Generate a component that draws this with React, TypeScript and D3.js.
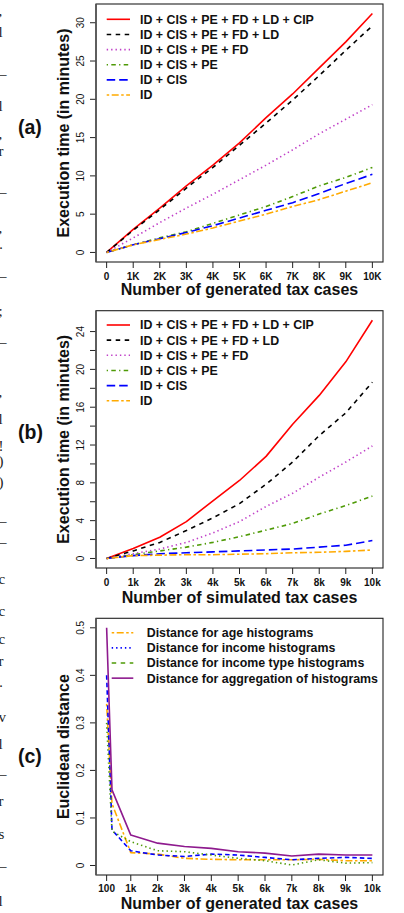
import React from 'react';
import * as d3 from 'd3';

const FONT = '"Liberation Sans", Arial, Helvetica, sans-serif';

// ---------- data ----------
const xValsAB = [0, 1000, 2000, 3000, 4000, 5000, 6000, 7000, 8000, 9000, 10000];
const xLabelsA = ['0', '1K', '2K', '3K', '4K', '5K', '6K', '7K', '8K', '9K', '10K'];
const xLabelsB = ['0', '1k', '2k', '3k', '4k', '5k', '6k', '7k', '8k', '9k', '10k'];
const namesAB = [
  'ID + CIS + PE + FD + LD + CIP',
  'ID + CIS + PE + FD + LD',
  'ID + CIS + PE + FD',
  'ID + CIS + PE',
  'ID + CIS',
  'ID',
];

// (a) execution time, generated cases
const aCIP = [0, 3.0, 5.8, 8.7, 11.4, 14.3, 17.6, 20.7, 24.1, 27.5, 31.2];
const aLD = [0, 2.9, 5.6, 8.4, 11.1, 14.0, 16.9, 19.9, 23.1, 26.4, 29.6];
const aFD = [0, 1.9, 3.9, 5.8, 7.6, 9.5, 11.4, 13.4, 15.5, 17.4, 19.3];
const aPE = [0, 1.0, 1.9, 2.7, 3.8, 4.9, 6.0, 7.3, 8.7, 9.8, 11.1];
const aCIS = [0, 1.0, 1.8, 2.6, 3.5, 4.5, 5.5, 6.5, 7.7, 9.0, 10.2];
const aID = [0, 1.0, 1.7, 2.4, 3.2, 4.1, 5.0, 6.0, 6.9, 8.0, 9.1];

// (b) execution time, simulated cases
const bCIP = [0, 1.05, 2.25, 3.9, 6.1, 8.25, 10.8, 14.2, 17.25, 20.8, 25.2];
const bLD = [0, 0.8, 1.7, 2.95, 4.3, 5.8, 7.85, 10.2, 13.0, 15.4, 18.65];
const bFD = [0, 0.5, 1.0, 1.7, 2.7, 3.9, 5.5, 6.9, 8.6, 10.2, 11.9];
const bPE = [0, 0.4, 0.8, 1.2, 1.7, 2.3, 3.0, 3.7, 4.7, 5.6, 6.6];
const bCIS = [0, 0.3, 0.5, 0.6, 0.7, 0.8, 0.9, 1.0, 1.2, 1.4, 1.9];
const bID = [0, 0.3, 0.35, 0.4, 0.4, 0.45, 0.5, 0.6, 0.65, 0.75, 0.9];

// (c) euclidean distance
const xValsC = [100, 300, 1000, 2000, 3000, 4000, 5000, 6000, 7000, 8000, 9000, 10000];
const xTicksC = [100, 1000, 2000, 3000, 4000, 5000, 6000, 7000, 8000, 9000, 10000];
const xLabelsC = ['100', '1k', '2k', '3k', '4k', '5k', '6k', '7k', '8k', '9k', '10k'];
const namesC = [
  'Distance for age histograms',
  'Distance for income histograms',
  'Distance for income type histograms',
  'Distance for aggregation of histograms',
];
const cAge = [0.34, 0.13, 0.027, 0.024, 0.015, 0.013, 0.012, 0.012, 0.012, 0.013, 0.010, 0.010];
const cIncome = [0.40, 0.075, 0.031, 0.022, 0.019, 0.024, 0.022, 0.017, 0.012, 0.015, 0.017, 0.015];
const cType = [0.30, 0.072, 0.05, 0.031, 0.029, 0.022, 0.015, 0.010, 0.001, 0.012, 0.005, 0.006];
const cAgg = [0.50, 0.159, 0.064, 0.047, 0.040, 0.036, 0.029, 0.026, 0.020, 0.024, 0.022, 0.022];

const yTicksA = [0, 5, 10, 15, 20, 25, 30];
const yTicksB = [0, 4, 8, 12, 16, 20, 24];
const yMinorB = [2, 6, 10, 14, 18, 22];
const yTicksC = [0, 0.1, 0.2, 0.3, 0.4, 0.5];
const yLabelsC = ['0', '0.1', '0.2', '0.3', '0.4', '0.5'];

// margin text fragments (cropped page text)
const marginChars = [
  [',', 16], ['l', 37], ['–', 79], ['l', 111], [',', 139], ['r', 156], ['–', 197], [',', 233],
  ['·', 253], ['–', 281], [';', 316], ['–', 347], [',', 397], ['l', 424], ['!', 451], [')', 466],
  [')', 487], ['–', 526], ['–', 547], ['c', 584], ['c', 616], ['c', 644], ['r', 666], ['·', 691],
  ['v', 722], ['l', 749], ['–', 779], ['r', 806], ['s', 839], ['–', 871], ['l', 906],
];

// ---------- styles ----------
const RED = '#FF0000';
const BLACK = '#000000';
const PURPLE = '#C040C8';
const GREEN = '#4E9A06';
const BLUE = '#0000FF';
const ORANGE = '#FFAA00';
const DARKPURPLE = '#8E1A8E';

const SOLID = 'none';
const DASHED = '4.5,4.5';
const DOTTED = '1.4,3.0';
const DOTDASH = '1.3,3.3,4.5,3.3';
const LONGDASH = '8.5,4';
const TWODASH = '2.5,2.5,7,2.5';

type Series = { vals: number[]; color: string; dash: string; legendDash?: string; name: string };

type PanelProps = {
  top: number;
  bottom: number;
  xDomain: [number, number];
  xs: number[];
  xTickVals: number[];
  xTickLabels: string[];
  yDomain: [number, number];
  yTicks: number[];
  yLabels: string[];
  yMinor?: number[];
  series: Series[];
  legendX0: number;
  legendX1: number;
  legendTextX: number;
  legendY0: number;
  yTitle: string;
  xTitle: string;
  tag: string;
  tagY: number;
  xLabelY: number;
  xTitleY: number;
};

const LEFT = 96;
const RIGHT = 383;

function Panel(p: PanelProps) {
  const x = d3.scaleLinear().domain(p.xDomain).range([LEFT, RIGHT]);
  const y = d3.scaleLinear().domain(p.yDomain).range([p.bottom, p.top]);
  const line = d3
    .line<number>()
    .x((_, i) => x(p.xs[i]))
    .y((d) => y(d));
  const midY = (p.top + p.bottom) / 2;
  const step = 15.15;
  return (
    <g>
      {/* tag */}
      <text x={18} y={p.tagY} fontFamily={FONT} fontWeight="bold" fontSize={19.5} fill="#111">
        {p.tag}
      </text>
      {/* y title */}
      <text
        transform={`translate(69,${midY}) rotate(-90)`}
        textAnchor="middle"
        fontFamily={FONT}
        fontWeight="bold"
        fontSize={16}
        fill="#111"
      >
        {p.yTitle}
      </text>
      {/* y ticks */}
      {p.yTicks.map((t, i) => (
        <g key={'yt' + i}>
          <line x1={LEFT - 6} x2={LEFT} y1={y(t)} y2={y(t)} stroke="#222" strokeWidth={1} />
          <text
            transform={`translate(83.5,${y(t)}) rotate(-90)`}
            textAnchor="middle"
            fontFamily={FONT}
            fontSize={10}
            fill="#111"
          >
            {p.yLabels[i]}
          </text>
        </g>
      ))}
      {(p.yMinor || []).map((t, i) => (
        <line key={'ym' + i} x1={LEFT - 6} x2={LEFT} y1={y(t)} y2={y(t)} stroke="#222" strokeWidth={1} />
      ))}
      {/* x ticks */}
      {p.xTickVals.map((t, i) => (
        <g key={'xt' + i}>
          <line x1={x(t)} x2={x(t)} y1={p.bottom} y2={p.bottom + 6} stroke="#222" strokeWidth={1} />
          <text
            x={x(t)}
            y={p.xLabelY}
            textAnchor="middle"
            fontFamily={FONT}
            fontWeight="bold"
            fontSize={10}
            fill="#111"
          >
            {p.xTickLabels[i]}
          </text>
        </g>
      ))}
      {/* x title */}
      <text
        x={(LEFT + RIGHT) / 2}
        y={p.xTitleY}
        textAnchor="middle"
        fontFamily={FONT}
        fontWeight="bold"
        fontSize={16}
        fill="#111"
      >
        {p.xTitle}
      </text>
      {/* series */}
      {p.series.map((s, i) => (
        <path
          key={'s' + i}
          d={line(s.vals) || ''}
          fill="none"
          stroke={s.color}
          strokeWidth={1.6}
          strokeDasharray={s.dash}
          strokeLinejoin="round"
        />
      ))}
      {/* legend */}
      {p.series.map((s, i) => {
        const ly = p.legendY0 + i * step;
        return (
          <g key={'lg' + i}>
            <line
              x1={p.legendX0}
              x2={p.legendX1}
              y1={ly}
              y2={ly}
              stroke={s.color}
              strokeWidth={1.6}
              strokeDasharray={s.legendDash ?? s.dash}
            />
            <text
              x={p.legendTextX}
              y={ly + 4.4}
              fontFamily={FONT}
              fontWeight="bold"
              fontSize={12.4}
              fill="#111"
            >
              {s.name}
            </text>
          </g>
        );
      })}
      {/* box */}
      <rect
        x={LEFT}
        y={p.top}
        width={RIGHT - LEFT}
        height={p.bottom - p.top}
        fill="none"
        stroke="#222"
        strokeWidth={1.1}
      />
      <line x1={LEFT} x2={LEFT} y1={p.top} y2={p.bottom} stroke="#555" strokeWidth={1.6} />
    </g>
  );
}

export default function App() {
  const abStyles = [
    { color: RED, dash: SOLID },
    { color: BLACK, dash: DASHED },
    { color: PURPLE, dash: DOTTED },
    { color: GREEN, dash: DOTDASH },
    { color: BLUE, dash: LONGDASH },
    { color: ORANGE, dash: TWODASH },
  ];
  const aVals = [aCIP, aLD, aFD, aPE, aCIS, aID];
  const bVals = [bCIP, bLD, bFD, bPE, bCIS, bID];
  const seriesA: Series[] = aVals.map((v, i) => ({ vals: v, ...abStyles[i], name: namesAB[i] }));
  const seriesB: Series[] = bVals.map((v, i) => ({ vals: v, ...abStyles[i], name: namesAB[i] }));
  const seriesC: Series[] = [
    { vals: cAge, color: ORANGE, dash: TWODASH, name: namesC[0] },
    { vals: cIncome, color: BLUE, dash: '4.5,3', legendDash: DOTTED, name: namesC[1] },
    { vals: cType, color: GREEN, dash: DOTTED, legendDash: DASHED, name: namesC[2] },
    { vals: cAgg, color: DARKPURPLE, dash: SOLID, name: namesC[3] },
  ];
  const padA = 31.2 * 0.04;
  const padB = 25.2 * 0.04;
  return (
    <svg
      width={404}
      height={913}
      viewBox="0 0 404 913"
      style={{ position: 'absolute', left: 0, top: 0, background: '#fff' }}
    >
      <rect x={0} y={0} width={404} height={913} fill="#fff" />
      {marginChars.map(([ch, yy], i) => (
        <text
          key={'m' + i}
          x={ch === '–' ? -1 : -1.5}
          y={yy as number}
          fontFamily='"Liberation Serif", "DejaVu Serif", serif'
          fontSize={15}
          fill="#222"
        >
          {ch as string}
        </text>
      ))}
      <Panel
        top={4}
        bottom={262}
        xDomain={[-400, 10400]}
        xs={xValsAB}
        xTickVals={xValsAB}
        xTickLabels={xLabelsA}
        yDomain={[-padA, 31.2 + padA]}
        yTicks={yTicksA}
        yLabels={yTicksA.map(String)}
        series={seriesA}
        legendX0={106.7}
        legendX1={130}
        legendTextX={140}
        legendY0={19.3}
        yTitle="Execution time (in minutes)"
        xTitle="Number of generated tax cases"
        tag="(a)"
        tagY={134}
        xLabelY={279.8}
        xTitleY={295.3}
      />
      <Panel
        top={310.7}
        bottom={568}
        xDomain={[-400, 10400]}
        xs={xValsAB}
        xTickVals={xValsAB}
        xTickLabels={xLabelsB}
        yDomain={[-padB, 25.2 + padB]}
        yTicks={yTicksB}
        yLabels={yTicksB.map(String)}
        yMinor={yMinorB}
        series={seriesB}
        legendX0={106.7}
        legendX1={130}
        legendTextX={140}
        legendY0={325}
        yTitle="Execution time (in minutes)"
        xTitle="Number of simulated tax cases"
        tag="(b)"
        tagY={438.5}
        xLabelY={585.8}
        xTitleY={602.5}
      />
      <Panel
        top={618.3}
        bottom={875}
        xDomain={[100 - 396, 10000 + 396]}
        xs={xValsC}
        xTickVals={xTicksC}
        xTickLabels={xLabelsC}
        yDomain={[-0.02, 0.52]}
        yTicks={yTicksC}
        yLabels={yLabelsC}
        series={seriesC}
        legendX0={111.7}
        legendX1={133.3}
        legendTextX={146.7}
        legendY0={632.7}
        yTitle="Euclidean distance"
        xTitle="Number of generated tax cases"
        tag="(c)"
        tagY={763}
        xLabelY={891.8}
        xTitleY={908.8}
      />
    </svg>
  );
}
